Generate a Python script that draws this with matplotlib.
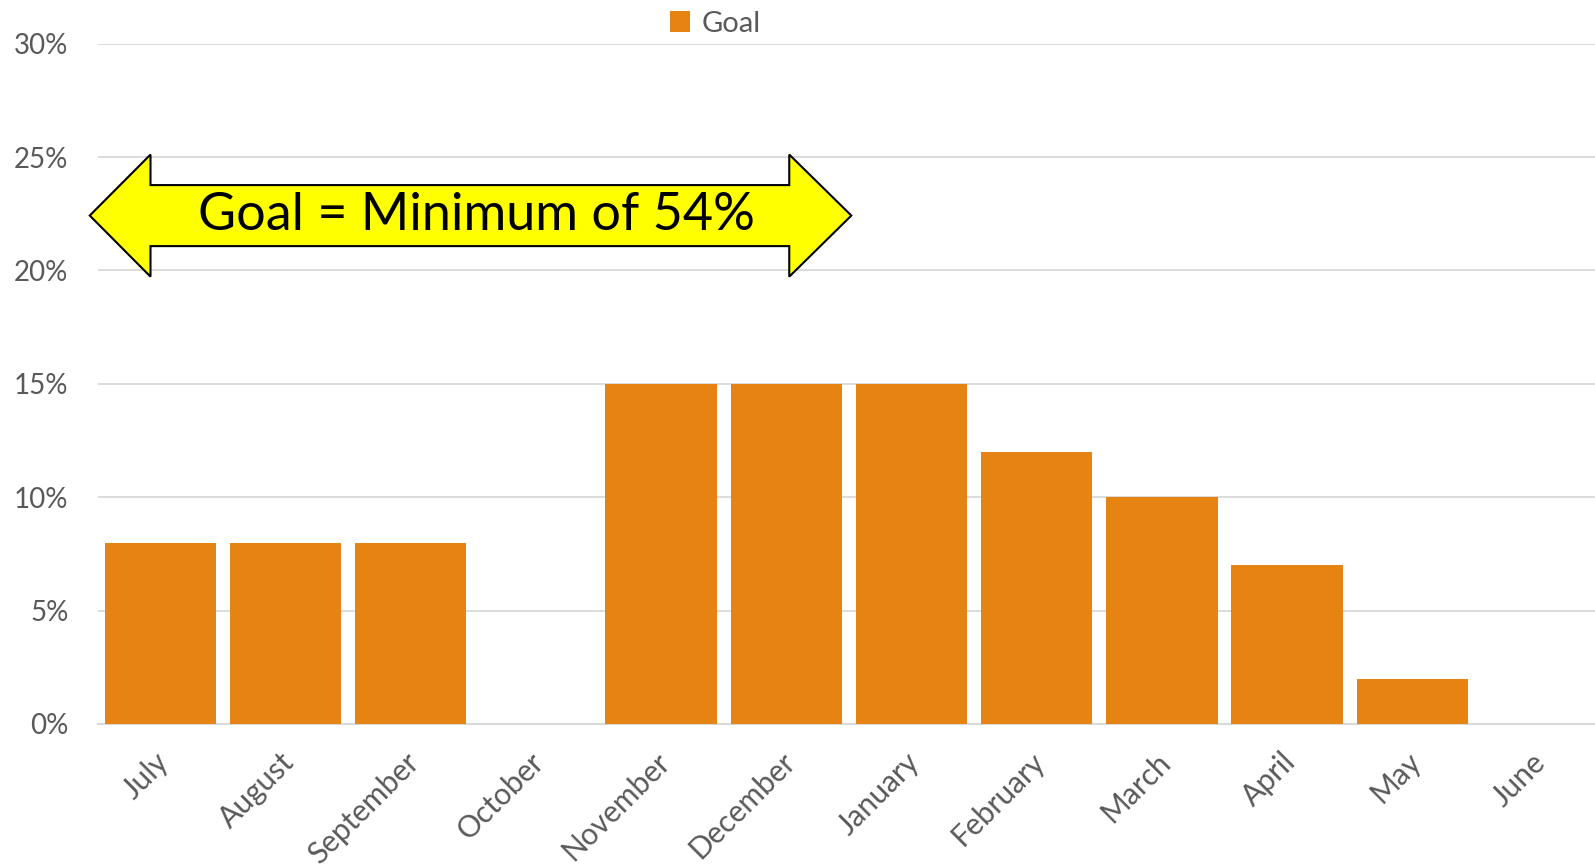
import matplotlib
matplotlib.use("Agg")
import matplotlib.pyplot as plt
from matplotlib.patches import Polygon, Patch
from matplotlib.ticker import FuncFormatter
from matplotlib.transforms import ScaledTranslation

months = ["July", "August", "September", "October", "November", "December",
          "January", "February", "March", "April", "May", "June"]
goal = [8, 8, 8, 0, 15, 15, 15, 12, 10, 7, 2, 0]
yticks = [0, 5, 10, 15, 20, 25, 30]
series_name = "Goal"
banner_text = "Goal = Minimum of 54%"

BAR = "#E58413"
GRID = "#D9D9D9"
TXT = "#595959"
plt.rcParams['font.family'] = ['Lato', 'DejaVu Sans']

fig = plt.figure(figsize=(15.95, 8.66), dpi=100)
ax = fig.add_axes([0.0612, 0.164, 0.942, 0.7856])
x = list(range(len(months)))
ax.bar(x, goal, width=0.89, color=BAR, zorder=3)
ax.set_xlim(-0.5, len(months) - 0.5)
ax.set_ylim(0, 30)
ax.set_yticks(yticks)
ax.yaxis.set_major_formatter(FuncFormatter(lambda v, p: f"{v:.0f}%"))
ax.grid(axis='y', color=GRID, linewidth=1.3, zorder=0)
for s in ['top', 'right', 'left']:
    ax.spines[s].set_visible(False)
ax.spines['bottom'].set_color(GRID)
ax.spines['bottom'].set_linewidth(1.5)
ax.tick_params(axis='both', length=0, colors=TXT)
ax.tick_params(axis='y', pad=21, labelsize=20)
ax.set_xticks(x)
ax.set_xticklabels(months, rotation=45, ha='right', rotation_mode='anchor', fontsize=21.5)
ax.tick_params(axis='x', pad=17)
shift = ScaledTranslation(-6 / 100, 0, fig.dpi_scale_trans)
for lab in ax.get_xticklabels():
    lab.set_transform(lab.get_transform() + shift)

# banner arrow in axes-fraction coordinates
pts = [(-0.006, 0.7473), (0.0346, 0.837), (0.0346, 0.7921), (0.4615, 0.7921),
       (0.4615, 0.837), (0.503, 0.7473), (0.4615, 0.6575), (0.4615, 0.7024),
       (0.0346, 0.7024), (0.0346, 0.6575)]
pts = [((px * 0.9381 + 0.0619 - 0.0612) / 0.942, py) for px, py in pts]
arrow = Polygon(pts, closed=True, facecolor="#FFFF00", edgecolor="black",
                linewidth=1.5, transform=ax.transAxes, clip_on=False, zorder=5)
ax.add_patch(arrow)
ax.text((0.2526 * 0.9381 + 0.0619 - 0.0612) / 0.942, 0.7473, banner_text,
        transform=ax.transAxes, ha='center', va='center',
        fontsize=37.5, color='black', zorder=6)

fig.legend(handles=[Patch(facecolor=BAR)], labels=[series_name], loc='center',
           bbox_to_anchor=(0.4485, 0.9725), frameon=False, fontsize=21,
           handlelength=0.7, handleheight=0.7, handletextpad=0.4, labelcolor=TXT)

fig.savefig("out.png", dpi=100)
